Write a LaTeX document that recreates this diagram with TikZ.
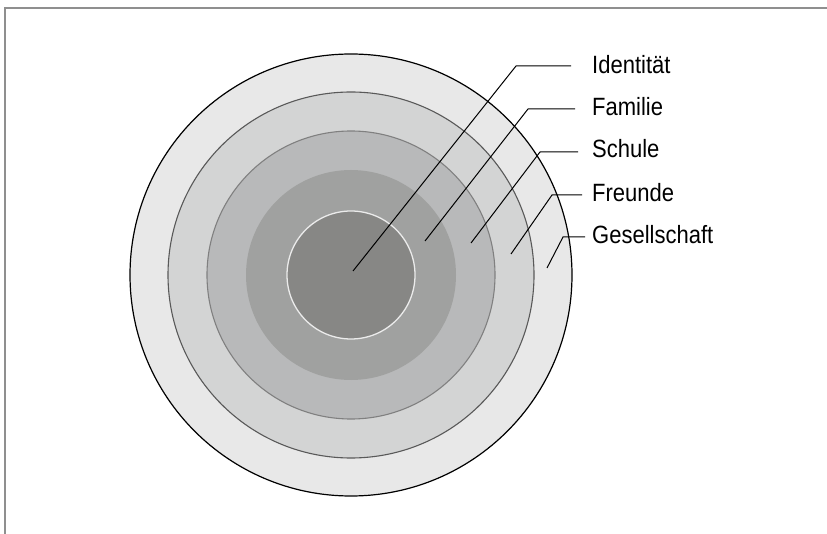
\documentclass[tikz,border=0pt]{standalone}
\usepackage{fontspec}
\setmainfont[FakeStretch=0.88]{Liberation Sans}
\usepackage{xcolor}
\definecolor{frameGray}{HTML}{8F8F8F}
\definecolor{ringOuter}{HTML}{E8E8E8}
\definecolor{ringTwo}{HTML}{D3D4D4}
\definecolor{ringThree}{HTML}{B8B9BA}
\definecolor{ringFour}{HTML}{A0A1A0}
\definecolor{ringCore}{HTML}{878785}

\begin{document}
\begin{tikzpicture}[x=1pt, y=-1pt,
    leader/.style={line width=1pt, black},
    lbl/.style={anchor=base west, inner sep=0pt, font=\fontsize{25}{28}\selectfont}]
    %page and frame
    \useasboundingbox (0,0) rectangle (827,534);
    \fill[white] (0,0) rectangle (827,534);
    \draw[frameGray, line width=2pt] (5,534) -- (5,8) -- (827,8);

    %rings
    \coordinate (mid) at (351,275);
    \filldraw[fill=ringOuter, draw=black, line width=1.2pt] (mid) circle (221pt);
    \filldraw[fill=ringTwo, draw=black!65, line width=1.1pt] (mid) circle (183pt);
    \filldraw[fill=ringThree, draw=black!50, line width=1.1pt] (mid) circle (144pt);
    \fill[ringFour] (mid) circle (105pt);
    \filldraw[fill=ringCore, draw=white!92!black, line width=1.3pt] (mid) circle (64pt);

    %labels
    \node[lbl] (identitaet) at (592,74) {Identität};
    \node[lbl] (familie) at (592,115.5) {Familie};
    \node[lbl] (schule) at (592,158) {Schule};
    \node[lbl] (freunde) at (592,201.5) {Freunde};
    \node[lbl] (gesellschaft) at (592,244) {Gesellschaft};

    %leader lines
    \coordinate (inIdentitaet) at (353,271);
    \coordinate (kneeIdentitaet) at (516,66);
    \coordinate (endIdentitaet) at (571,66);
    \coordinate (inFamilie) at (425,241);
    \coordinate (kneeFamilie) at (528,109);
    \coordinate (endFamilie) at (575,109);
    \coordinate (inSchule) at (471,243);
    \coordinate (kneeSchule) at (540,152);
    \coordinate (endSchule) at (578,152);
    \coordinate (inFreunde) at (511,254);
    \coordinate (kneeFreunde) at (552,195);
    \coordinate (endFreunde) at (582,195);
    \coordinate (inGesellschaft) at (547,268);
    \coordinate (kneeGesellschaft) at (563,237);
    \coordinate (endGesellschaft) at (585,237);

    \draw[leader] (inIdentitaet) -- (kneeIdentitaet) -- (endIdentitaet);
    \draw[leader] (inFamilie) -- (kneeFamilie) -- (endFamilie);
    \draw[leader] (inSchule) -- (kneeSchule) -- (endSchule);
    \draw[leader] (inFreunde) -- (kneeFreunde) -- (endFreunde);
    \draw[leader] (inGesellschaft) -- (kneeGesellschaft) -- (endGesellschaft);

\end{tikzpicture}
\end{document}
